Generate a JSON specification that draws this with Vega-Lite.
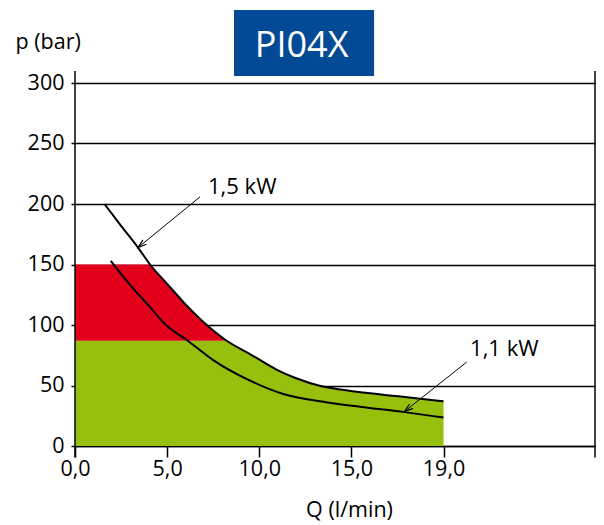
{
  "$schema": "https://vega.github.io/schema/vega-lite/v6.json",
  "width": 520,
  "height": 363,
  "autosize": "none",
  "padding": {"left": 75, "top": 83, "right": 9, "bottom": 79},
  "background": "white",
  "config": {
    "view": {"stroke": null},
    "font": "Open Sans",
    "axis": {"labelFont": "Open Sans", "titleFont": "Open Sans", "labelColor": "black", "titleColor": "black", "labelFontSize": 21.5, "titleFontSize": 21.5, "titleFontWeight": "normal"}
  },
  "datasets": {
    "green": [
      {"Q": 0, "p": 87, "p2": 0}, {"Q": 8.23, "p": 87, "p2": 0}, {"Q": 9.5, "p": 76, "p2": 0},
      {"Q": 10.96, "p": 63, "p2": 0}, {"Q": 12, "p": 56, "p2": 0}, {"Q": 13.33, "p": 49.6, "p2": 0},
      {"Q": 14.5, "p": 46.5, "p2": 0}, {"Q": 15.88, "p": 43.8, "p2": 0}, {"Q": 17.9, "p": 40.4, "p2": 0},
      {"Q": 20, "p": 37, "p2": 0}
    ],
    "red": [
      {"Q": 0, "p": 150, "p2": 87}, {"Q": 4.07, "p": 150, "p2": 87}, {"Q": 5, "p": 134, "p2": 87},
      {"Q": 6, "p": 117, "p2": 87}, {"Q": 7.15, "p": 100, "p2": 87}, {"Q": 8.23, "p": 87, "p2": 87}
    ],
    "curves": [
      {"power": "1,5 kW", "Q": 1.6, "p": 200}, {"power": "1,5 kW", "Q": 2.5, "p": 182},
      {"power": "1,5 kW", "Q": 3.42, "p": 164}, {"power": "1,5 kW", "Q": 4.07, "p": 150},
      {"power": "1,5 kW", "Q": 5, "p": 134}, {"power": "1,5 kW", "Q": 6, "p": 117},
      {"power": "1,5 kW", "Q": 7.15, "p": 100}, {"power": "1,5 kW", "Q": 8.23, "p": 87},
      {"power": "1,5 kW", "Q": 9.5, "p": 76}, {"power": "1,5 kW", "Q": 10.96, "p": 63},
      {"power": "1,5 kW", "Q": 12, "p": 56}, {"power": "1,5 kW", "Q": 13.33, "p": 49.6},
      {"power": "1,5 kW", "Q": 14.5, "p": 46.5}, {"power": "1,5 kW", "Q": 15.88, "p": 43.8},
      {"power": "1,5 kW", "Q": 17.9, "p": 40.4}, {"power": "1,5 kW", "Q": 20, "p": 37},
      {"power": "1,1 kW", "Q": 1.94, "p": 153}, {"power": "1,1 kW", "Q": 3, "p": 133},
      {"power": "1,1 kW", "Q": 4, "p": 116}, {"power": "1,1 kW", "Q": 4.94, "p": 100},
      {"power": "1,1 kW", "Q": 6.12, "p": 87}, {"power": "1,1 kW", "Q": 7.5, "p": 71},
      {"power": "1,1 kW", "Q": 9.5, "p": 54}, {"power": "1,1 kW", "Q": 11.3, "p": 43},
      {"power": "1,1 kW", "Q": 13.7, "p": 36}, {"power": "1,1 kW", "Q": 15.8, "p": 31.8},
      {"power": "1,1 kW", "Q": 17.88, "p": 28}, {"power": "1,1 kW", "Q": 20, "p": 23.5}
    ],
    "arrows": [
      {"power": "1,5 kW", "Q": 6.78, "p": 205.8, "Q2": 3.42, "p2": 164},
      {"power": "1,1 kW", "Q": 21.26, "p": 69.4, "Q2": 17.88, "p2": 28.5}
    ],
    "labels": [
      {"label": "1,5 kW", "Q": 7.22, "p": 208.5},
      {"label": "1,1 kW", "Q": 21.44, "p": 74.7}
    ],
    "borders": [
      {"Q": 0, "p": -9.5, "p2": 310},
      {"Q": 28.22, "p": -9.5, "p2": 310}
    ],
    "badge": [
      {"label": "PI04X", "Q": 8.63, "Q2": 16.23, "p": 305.8, "p2": 360.3, "Qc": 12.3, "pb": 321.7}
    ]
  },
  "encoding": {
    "x": {
      "field": "Q", "type": "quantitative",
      "scale": {"domain": [0, 28.22], "nice": false, "zero": false},
      "axis": {
        "title": "Q (l/min)", "values": [0, 5, 10, 15, 20],
        "labelExpr": "datum.value == 20 ? '19,0' : replace(format(datum.value, '.1f'), '.', ',')",
        "grid": false, "domain": true, "domainColor": "black", "domainWidth": 1.5,
        "ticks": true, "tickColor": "black", "tickWidth": 1.5, "tickSize": 11,
        "labelPadding": 1, "labelFlush": false,
        "titleX": 274, "titleY": 70, "titleBaseline": "alphabetic", "titleAlign": "center"
      }
    },
    "y": {
      "field": "p", "type": "quantitative",
      "scale": {"domain": [0, 300], "nice": false},
      "axis": {
        "title": "p (bar)", "values": [0, 50, 100, 150, 200, 250, 300],
        "grid": true, "gridColor": "black", "gridWidth": 1.5, "gridOpacity": 1,
        "domain": false, "ticks": true, "tickColor": "black", "tickWidth": 1.5, "tickSize": 4,
        "labelPadding": 7,
        "titleAngle": 0, "titleAlign": "left", "titleBaseline": "alphabetic",
        "titleX": -60, "titleY": -35
      }
    }
  },
  "layer": [
    {
      "data": {"name": "green"},
      "mark": {"type": "area", "color": "#97BF0D", "interpolate": "linear", "opacity": 1},
      "encoding": {"y2": {"field": "p2"}}
    },
    {
      "data": {"name": "red"},
      "mark": {"type": "area", "color": "#E2001A", "interpolate": "linear", "opacity": 1},
      "encoding": {"y2": {"field": "p2"}}
    },
    {
      "data": {"name": "borders"},
      "mark": {"type": "rule", "color": "black", "strokeWidth": 1.5},
      "encoding": {"y2": {"field": "p2"}}
    },
    {
      "data": {"name": "curves"},
      "mark": {"type": "line", "color": "black", "strokeWidth": 2, "interpolate": "monotone"},
      "encoding": {"detail": {"field": "power"}}
    },
    {
      "data": {"name": "arrows"},
      "mark": {"type": "rule", "color": "black", "strokeWidth": 1},
      "encoding": {"x2": {"field": "Q2"}, "y2": {"field": "p2"}}
    },
    {
      "data": {"name": "arrows"},
      "transform": [{"filter": "datum.power == '1,5 kW'"}],
      "mark": {"type": "point", "shape": "M-0.32,1L0,0L0.32,1", "size": 300, "filled": false, "stroke": "black", "strokeWidth": 1.2, "opacity": 1, "angle": 230.6},
      "encoding": {"x": {"field": "Q2", "type": "quantitative"}, "y": {"field": "p2", "type": "quantitative"}}
    },
    {
      "data": {"name": "arrows"},
      "transform": [{"filter": "datum.power == '1,1 kW'"}],
      "mark": {"type": "point", "shape": "M-0.32,1L0,0L0.32,1", "size": 300, "filled": false, "stroke": "black", "strokeWidth": 1.2, "opacity": 1, "angle": 231.9},
      "encoding": {"x": {"field": "Q2", "type": "quantitative"}, "y": {"field": "p2", "type": "quantitative"}}
    },
    {
      "data": {"name": "labels"},
      "mark": {"type": "text", "align": "left", "baseline": "alphabetic", "fontSize": 22, "font": "Open Sans", "color": "black"},
      "encoding": {"text": {"field": "label"}}
    },
    {
      "data": {"name": "badge"},
      "mark": {"type": "rect", "color": "#034A96", "opacity": 1},
      "encoding": {"x2": {"field": "Q2"}, "y2": {"field": "p2"}}
    },
    {
      "data": {"name": "badge"},
      "mark": {"type": "text", "align": "center", "baseline": "alphabetic", "fontSize": 36, "font": "Open Sans", "color": "white"},
      "encoding": {"x": {"field": "Qc", "type": "quantitative"}, "y": {"field": "pb", "type": "quantitative"}, "text": {"field": "label"}}
    }
  ]
}
